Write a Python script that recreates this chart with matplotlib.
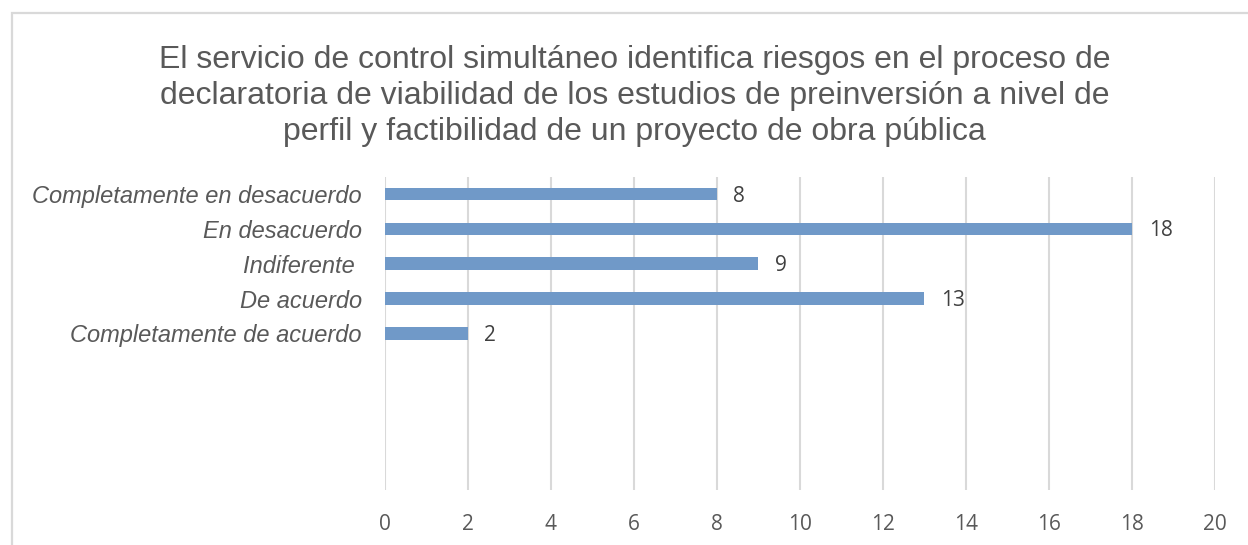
import matplotlib.pyplot as plt
from matplotlib.patches import Rectangle

# ---------------------- datos ----------------------
categorias = ["Completamente en desacuerdo", "En desacuerdo", "Indiferente ",
              "De acuerdo", "Completamente de acuerdo", "", "", "", ""]
valores = [8, 18, 9, 13, 2, None, None, None, None]
ticks_x = [0, 2, 4, 6, 8, 10, 12, 14, 16, 18, 20]
titulo = ("El servicio de control simultáneo identifica riesgos en el proceso de\n"
          "declaratoria de viabilidad de los estudios de preinversión a nivel de\n"
          "perfil y factibilidad de un proyecto de obra pública")

color_barra = "#7099C8"
gris_texto = "#595959"
gris_linea = "#D9D9D9"

fig = plt.figure(figsize=(12.48, 5.45), dpi=100)
ax = fig.add_axes([0.3083, 0.1009, 0.9736 - 0.3083, 0.6758 - 0.1009])

# borde del área del gráfico (sale fuera del recorte, como en la imagen)
fig.patches.append(Rectangle((12 / 1248, -0.5), 2, 1.5 - 13 / 545,
                             transform=fig.transFigure, fill=False,
                             edgecolor=gris_linea, linewidth=1.6))

pos = list(range(len(categorias)))
for i, v in zip(pos, valores):
    if v is None:
        continue
    ax.barh(i, v, height=0.36, color=color_barra, zorder=3)
    ax.text(v + 0.4, i + 0.06, str(v), va="center", ha="left",
            fontsize=15, color="#404040", family="Open Sans")

ax.set_ylim(len(categorias) - 0.5, -0.5)
ax.set_xlim(0, 20)
ax.set_yticks(pos)
ax.set_yticklabels(categorias, fontsize=17, style="italic",
                   family="Liberation Sans", color=gris_texto)
ax.set_xticks(ticks_x)
ax.set_xticklabels([str(t) for t in ticks_x], fontsize=15,
                   family="Open Sans", color=gris_texto)
ax.tick_params(axis="y", length=0, pad=16.5)
ax.tick_params(axis="x", length=0, pad=17)
ax.grid(axis="x", color=gris_linea, linewidth=1.5, zorder=0)
for s in ax.spines.values():
    s.set_visible(False)

fig.text(0.5085, 1 - 96 / 545, titulo, ha="center", va="center",
         fontsize=23, family="Liberation Sans", color=gris_texto,
         linespacing=1.27)

fig.savefig("out.png", dpi=100)
